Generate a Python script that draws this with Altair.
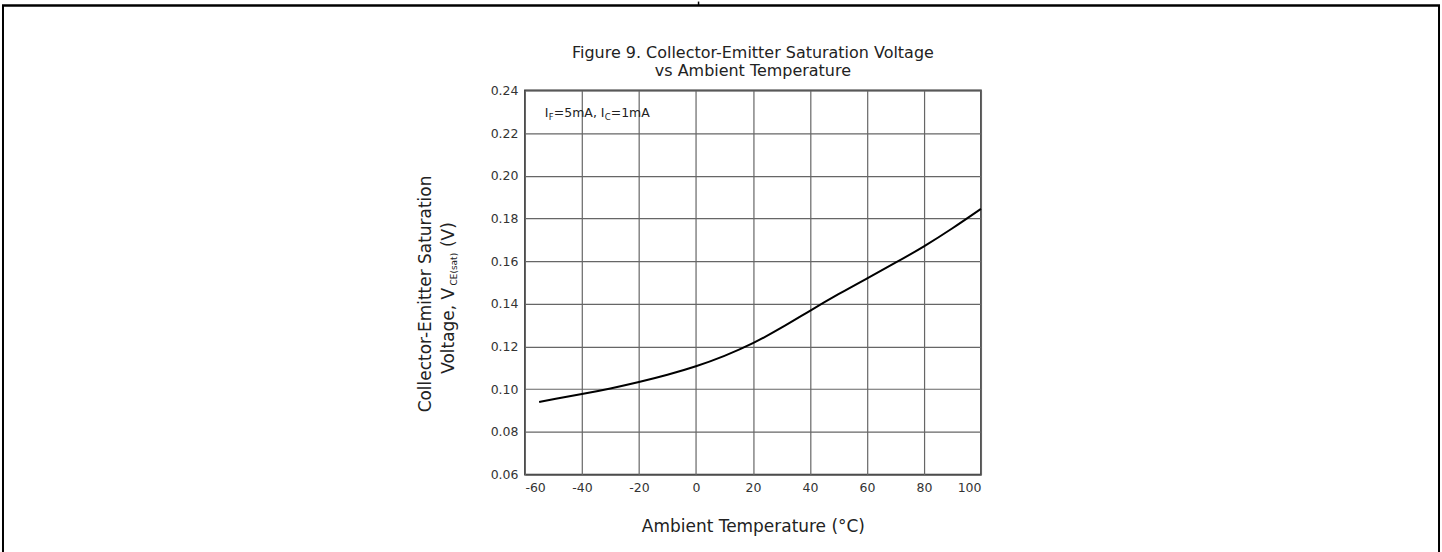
import altair as alt
import pandas as pd

# ---- data ----
temps = [-55, -50, -40, -30, -20, -10, 0, 10, 20, 30, 40, 50, 60, 70, 80, 90, 100]
vce = [0.0940, 0.0953, 0.0977, 0.1003, 0.1033, 0.1067, 0.1106, 0.1155, 0.1213,
       0.1287, 0.1368, 0.1446, 0.1519, 0.1592, 0.1668, 0.1753, 0.1845]
x_ticks = [-60, -40, -20, 0, 20, 40, 60, 80, 100]
y_ticks = [0.06, 0.08, 0.10, 0.12, 0.14, 0.16, 0.18, 0.20, 0.22, 0.24]
title_lines = ["Figure 9. Collector-Emitter Saturation Voltage", "vs Ambient Temperature"]
x_title = "Ambient Temperature (°C)"
y_title_line1 = "Collector-Emitter Saturation"
y_title_line2 = ["Voltage, V", "CE(sat)", "(V)"]
annot_pieces = ["I", "F", "=5mA, I", "C", "=1mA"]
annot_pos = (-53, 0.2295)

FONT = "DejaVu Sans"
W, H = 457, 385

df = pd.DataFrame({"T": temps, "V": vce})

x_enc = alt.X("T:Q", scale=alt.Scale(domain=[-60, 100], nice=False, zero=False),
              axis=alt.Axis(values=x_ticks, labelExpr="'' + datum.value", title=x_title,
                            titleFontSize=17, titleFont=FONT, titleFontWeight="normal",
                            titleColor="#222", titlePadding=25, labelPadding=7))
y_enc = alt.Y("V:Q", scale=alt.Scale(domain=[0.06, 0.24], nice=False, zero=False),
              axis=alt.Axis(values=y_ticks, format=".2f", title=None, labelPadding=7))

line = alt.Chart(df).mark_line(color="black", strokeWidth=2, interpolate="basis").encode(
    x=x_enc, y=y_enc)

# annotation I_F=5mA, I_C=1mA
ann_df = pd.DataFrame({
    "T": [annot_pos[0]] * 5,
    "V": [annot_pos[1]] * 5,
    "txt": annot_pieces,
})
dxs = [0, 3.9, 9, 60, 66]
subs = [False, True, False, True, False]
ann_layers = []
for i, piece in enumerate(annot_pieces):
    ann_layers.append(
        alt.Chart(ann_df.iloc[[i]]).mark_text(
            align="left", baseline="middle", font=FONT,
            fontSize=8.5 if subs[i] else 12.5,
            dx=dxs[i], dy=4 if subs[i] else 0, color="#222"
        ).encode(x="T:Q", y="V:Q", text="txt:N")
    )

one = pd.DataFrame({"t": [0]})

# chart title (two centred lines above the plot)
title_layers = [
    alt.Chart(one).mark_text(align="center", baseline="middle", font=FONT, fontSize=16,
                             color="#222").encode(
        x=alt.value(W / 2), y=alt.value(yy), text=alt.value(txt))
    for txt, yy in zip(title_lines, [-37, -19])
]

# y-axis title (two rotated lines, with subscript)
yt1 = alt.Chart(one).mark_text(
    angle=270, align="center", baseline="middle", font=FONT, fontSize=17, color="#222"
).encode(x=alt.value(-99), y=alt.value(204), text=alt.value(y_title_line1))
yt_dx = [0, 88.5, 127]
yt_parts = []
for i, p in enumerate(y_title_line2):
    sub = (i == 1)
    yt_parts.append(
        alt.Chart(one).mark_text(
            angle=270, align="left", baseline="middle", font=FONT,
            fontSize=9 if sub else 17, dx=yt_dx[i], dy=5 if sub else 0, color="#222"
        ).encode(x=alt.value(-76), y=alt.value(284), text=alt.value(p))
    )

# page frame (table border around the figure)
frame = [
    alt.Chart(one).mark_rule(color="black", strokeWidth=2).encode(
        x=alt.value(-523), y=alt.value(-85), y2=alt.value(463)),
    alt.Chart(one).mark_rule(color="black", strokeWidth=2).encode(
        x=alt.value(916), y=alt.value(-85), y2=alt.value(463)),
    alt.Chart(one).mark_rule(color="black", strokeWidth=2.5).encode(
        x=alt.value(-524), x2=alt.value(917), y=alt.value(-85)),
    alt.Chart(one).mark_rule(color="black", strokeWidth=1.5).encode(
        x=alt.value(174), y=alt.value(-89), y2=alt.value(-85)),
]

chart = alt.layer(line, *ann_layers, *title_layers, yt1, *yt_parts, *frame).properties(
    width=W, height=H,
    padding=0,
).configure_view(
    stroke="#333", strokeWidth=1.6
).configure_axis(
    labelFont=FONT, labelFontSize=12.5, labelColor="#333",
    domain=False, ticks=False, grid=True, gridColor="#666", gridWidth=1.2, gridOpacity=1,
)

chart.save("out.html", embed_options={"renderer": "svg", "actions": False})
